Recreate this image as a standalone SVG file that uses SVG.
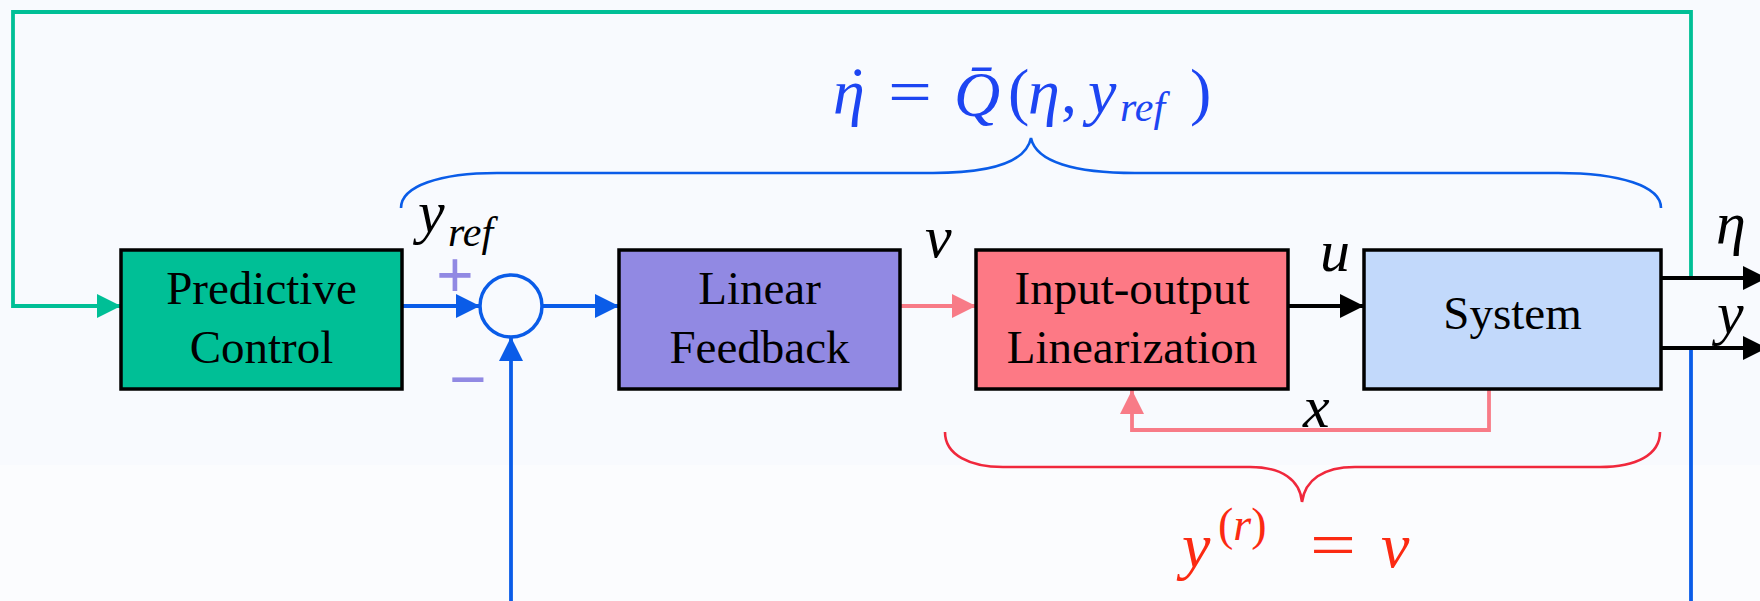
<svg xmlns="http://www.w3.org/2000/svg" width="1760" height="601" viewBox="0 0 1760 601">
  <style>
    .box { stroke: #000; stroke-width: 3.5; }
    .blk { font-family: "Liberation Serif", "Times New Roman", serif; font-size: 47px; fill: #000; text-anchor: middle; }
    .lbl { font-family: "Liberation Serif", "Times New Roman", serif; font-style: italic; font-size: 60px; fill: #000; }
    .sign { font-family: "Liberation Sans", Arial, sans-serif; font-size: 64px; fill: #9189e3; text-anchor: middle; }
    .mathb { font-family: "Liberation Serif", "Times New Roman", serif; font-size: 64px; fill: #1d45f2; }
    .mathr { font-family: "Liberation Serif", "Times New Roman", serif; font-size: 64px; fill: #fb2a12; }
    .it { font-style: italic; }
    .wire { fill: none; stroke-width: 3.8; }
    .brace { fill: none; stroke-width: 2.6; }
  </style>
  <defs>
    <marker id="ahGreen" viewBox="0 0 24 24" refX="24" refY="12" markerWidth="24" markerHeight="24" markerUnits="userSpaceOnUse" orient="auto">
      <path d="M0,0 L24,12 L0,24 z" fill="#00bf96"/>
    </marker>
    <marker id="ahBlue" viewBox="0 0 24 24" refX="24" refY="12" markerWidth="24" markerHeight="24" markerUnits="userSpaceOnUse" orient="auto">
      <path d="M0,0 L24,12 L0,24 z" fill="#0a5ce8"/>
    </marker>
    <marker id="ahPink" viewBox="0 0 24 24" refX="24" refY="12" markerWidth="24" markerHeight="24" markerUnits="userSpaceOnUse" orient="auto">
      <path d="M0,0 L24,12 L0,24 z" fill="#f87b87"/>
    </marker>
    <marker id="ahBlack" viewBox="0 0 24 24" refX="24" refY="12" markerWidth="24" markerHeight="24" markerUnits="userSpaceOnUse" orient="auto">
      <path d="M0,0 L24,12 L0,24 z" fill="#000"/>
    </marker>
  </defs>

  <!-- background -->
  <rect x="0" y="0" width="1760" height="601" fill="#fbfcfe"/>
  <rect x="0" y="0" width="1760" height="465" fill="#f8fafe"/>

  <!-- connectors -->
  <g id="connectors">
    <path class="wire" stroke="#00bf96" d="M1691,278 V12 H13 V306 H121" marker-end="url(#ahGreen)"/>
    <path class="wire" stroke="#0a5ce8" d="M402,306 H480" marker-end="url(#ahBlue)"/>
    <path class="wire" stroke="#0a5ce8" d="M542,306 H619" marker-end="url(#ahBlue)"/>
    <path class="wire" stroke="#0a5ce8" d="M511,601 V337" marker-end="url(#ahBlue)"/>
    <path class="wire" stroke="#0a5ce8" d="M1691,348 V601"/>
    <path class="wire" stroke="#f87b87" d="M900,306 H976" marker-end="url(#ahPink)"/>
    <path class="wire" stroke="#000" d="M1288,306 H1364" marker-end="url(#ahBlack)"/>
    <path class="wire" stroke="#000" d="M1661,278 H1767" marker-end="url(#ahBlack)"/>
    <path class="wire" stroke="#000" d="M1661,348 H1767" marker-end="url(#ahBlack)"/>
    <path class="wire" stroke="#f87b87" stroke-width="3.2" d="M1489,373 V430 H1132 V390" marker-end="url(#ahPink)"/>
  </g>

  <!-- upper brace: zero dynamics -->
  <g id="brace-top">
    <path class="brace" stroke="#0a5ce8" d="M401,208 C401,186 440,173 497,173 H933 C990,173 1026,162 1031,138 C1036,162 1075,173 1135,173 H1558 C1620,173 1661,186 1661,208"/>
    <text class="mathb" y="113"><tspan class="it" x="833">η</tspan><tspan x="847" y="111">˙</tspan><tspan x="888" y="113" textLength="44" lengthAdjust="spacingAndGlyphs">=</tspan><tspan class="it" x="954" y="116">Q̄</tspan><tspan x="1008" y="113">(</tspan><tspan class="it" x="1028">η</tspan><tspan x="1061">,</tspan><tspan class="it" x="1088">y</tspan><tspan class="it" x="1120" dy="8" font-size="42">ref</tspan><tspan x="1190" y="113">)</tspan></text>
  </g>

  <!-- lower brace: linearized input-output map -->
  <g id="brace-bottom">
    <path class="brace" stroke="#f0283c" d="M945,432 C945,455 970,467 1003,467 H1250 C1282,467 1300,480 1302,502 C1305,480 1323,467 1355,467 H1600 C1636,467 1660,455 1660,432"/>
    <text class="mathr" y="567"><tspan class="it" x="1182">y</tspan><tspan x="1218" y="540" font-size="46">(</tspan><tspan class="it" font-size="46">r</tspan><tspan font-size="46">)</tspan><tspan x="1310" y="566" textLength="46" lengthAdjust="spacingAndGlyphs">=</tspan><tspan class="it" x="1381" y="567">v</tspan></text>
  </g>

  <!-- nodes -->
  <g id="predictive-control">
    <rect class="box" x="121" y="250" width="281" height="139" fill="#00bf96"/>
    <text class="blk" x="261.5" y="304">Predictive</text>
    <text class="blk" x="261.5" y="363">Control</text>
  </g>

  <g id="summing-junction">
    <circle cx="511" cy="306" r="31" fill="none" stroke="#0a5ce8" stroke-width="3.5"/>
    <text class="sign" x="455" y="297">+</text>
    <text class="sign" x="468" y="401">−</text>
  </g>

  <g id="linear-feedback">
    <rect class="box" x="619" y="250" width="281" height="139" fill="#9189e3"/>
    <text class="blk" x="759.5" y="304">Linear</text>
    <text class="blk" x="759.5" y="363">Feedback</text>
  </g>

  <g id="io-linearization">
    <rect class="box" x="976" y="250" width="312" height="139" fill="#fd7985"/>
    <text class="blk" x="1132" y="304">Input-output</text>
    <text class="blk" x="1132" y="363">Linearization</text>
  </g>

  <g id="system">
    <rect class="box" x="1364" y="250" width="297" height="139" fill="#c2d9fb"/>
    <text class="blk" x="1512.5" y="329">System</text>
  </g>

  <!-- signal labels -->
  <g id="labels">
    <text class="lbl" x="418" y="232">y<tspan x="448" dy="14" font-size="42">ref</tspan></text>
    <text class="lbl" x="925" y="257">v</text>
    <text class="lbl" x="1320" y="271">u</text>
    <text class="lbl" x="1303" y="427">x</text>
    <text class="lbl" x="1716" y="243">η</text>
    <text class="lbl" x="1717" y="333">y</text>
  </g>
</svg>
